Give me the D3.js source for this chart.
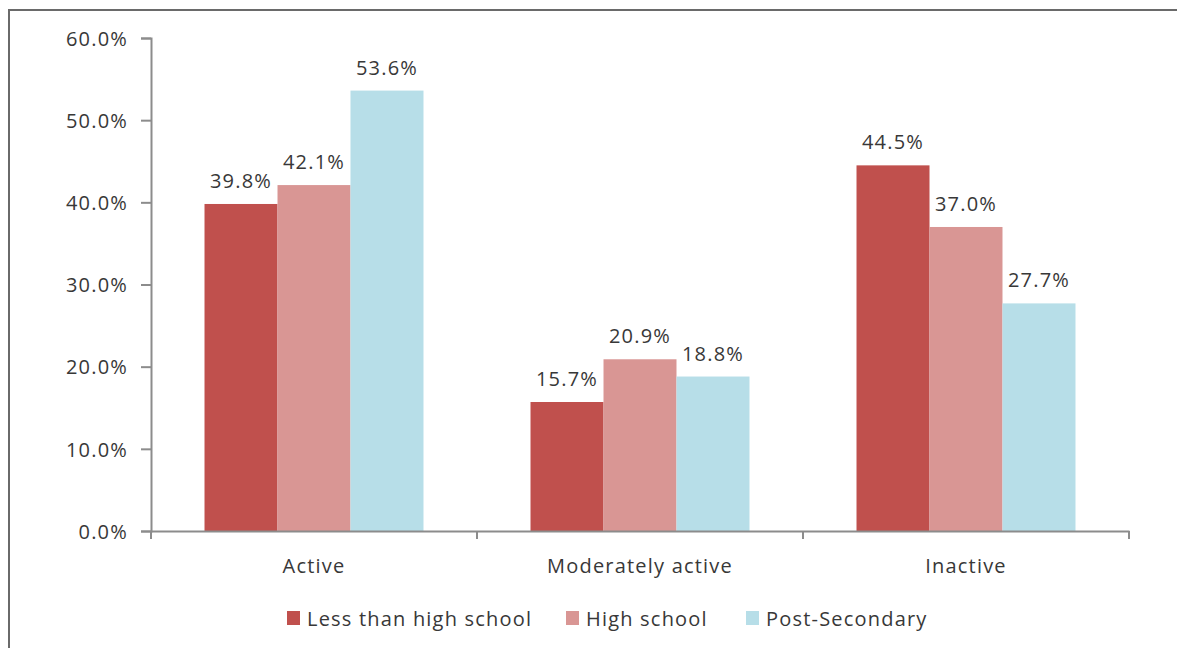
<!DOCTYPE html>
<html><head><meta charset="utf-8">
<script src="https://cdn.jsdelivr.net/npm/d3@7"></script>
<style>body{margin:0;background:#fff}svg{display:block}text{font-family:"Open Sans",sans-serif;letter-spacing:1.2px}</style>
</head><body><svg id="c" width="1177" height="648"></svg>
<script>
const categories = ["Active", "Moderately active", "Inactive"];
const seriesNames = ["Less than high school", "High school", "Post-Secondary"];
const lessThanHS = [0.398, 0.157, 0.445];
const highSchool = [0.421, 0.209, 0.370];
const postSecondary = [0.536, 0.188, 0.277];
const yTicks = [0, 0.1, 0.2, 0.3, 0.4, 0.5, 0.6];
const colors = ["#C0504D", "#D99694", "#B7DEE8"];
const seriesValues = [lessThanHS, highSchool, postSecondary];

const svg = d3.select("#c");
const fs = 20;
const txtColor = "#383838";
svg.append("rect").attr("x",9).attr("y",10).attr("width",1300).attr("height",800)
  .attr("fill","none").attr("stroke","#6a6a6a").attr("stroke-width",2);

const pLeft=151, pRight=1129, pTop=38, pBottom=531;
const y = d3.scaleLinear().domain([0,0.6]).range([pBottom,pTop]);
const x0 = d3.scaleBand().domain(categories).range([pLeft,pRight]).padding(0);
const x1 = d3.scaleBand().domain(seriesNames).range([0,x0.bandwidth()]).paddingInner(0).paddingOuter(0.733);
const axisColor = "#8c8c8c";

// y axis
const ya = svg.append("g").attr("transform",`translate(${pLeft},0)`)
  .call(d3.axisLeft(y).tickValues(yTicks).tickFormat(d3.format(".1%")).tickSize(10).tickPadding(13));
ya.select(".domain").attr("stroke",axisColor).attr("stroke-width",2);
ya.selectAll(".tick line").attr("stroke",axisColor).attr("stroke-width",2);
ya.selectAll(".tick text").attr("font-size",fs).attr("fill",txtColor).attr("font-family","Open Sans, sans-serif").attr("dy","0.36em");

// bars
const groups = svg.append("g").selectAll("g").data(categories).join("g")
  .attr("transform",d=>`translate(${x0(d)},0)`);
seriesNames.forEach((s,si)=>{
  groups.append("rect")
    .attr("x",x1(s)).attr("width",x1.bandwidth())
    .attr("y",(d,i)=>y(seriesValues[si][i]))
    .attr("height",(d,i)=>pBottom-y(seriesValues[si][i]))
    .attr("fill",colors[si]);
  groups.append("text")
    .attr("x",x1(s)+x1.bandwidth()/2)
    .attr("y",(d,i)=>y(seriesValues[si][i])-16)
    .attr("text-anchor","middle").attr("font-size",fs).attr("fill",txtColor)
    .text((d,i)=>d3.format(".1%")(seriesValues[si][i]));
});

// x axis
const xa = svg.append("g").attr("transform",`translate(0,${pBottom})`)
  .call(d3.axisBottom(x0).tickSize(0).tickPadding(28));
xa.select(".domain").attr("stroke",axisColor).attr("stroke-width",2);
xa.selectAll(".tick text").attr("font-size",fs).attr("fill",txtColor).attr("font-family","Open Sans, sans-serif");
const bounds = categories.map(c=>x0(c)).concat([pRight]);
svg.append("g").selectAll("line").data(bounds).join("line")
  .attr("x1",d=>d).attr("x2",d=>d).attr("y1",pBottom).attr("y2",pBottom+8)
  .attr("stroke",axisColor).attr("stroke-width",2);

// legend
const legendX = [287, 566, 746];
const lg = svg.append("g").selectAll("g").data(seriesNames).join("g")
  .attr("transform",(d,i)=>`translate(${legendX[i]},611)`);
lg.append("rect").attr("width",13).attr("height",14).attr("fill",(d,i)=>colors[i]);
lg.append("text").attr("x",20).attr("y",15).attr("font-size",fs).attr("fill",txtColor).text(d=>d);
</script></body></html>
